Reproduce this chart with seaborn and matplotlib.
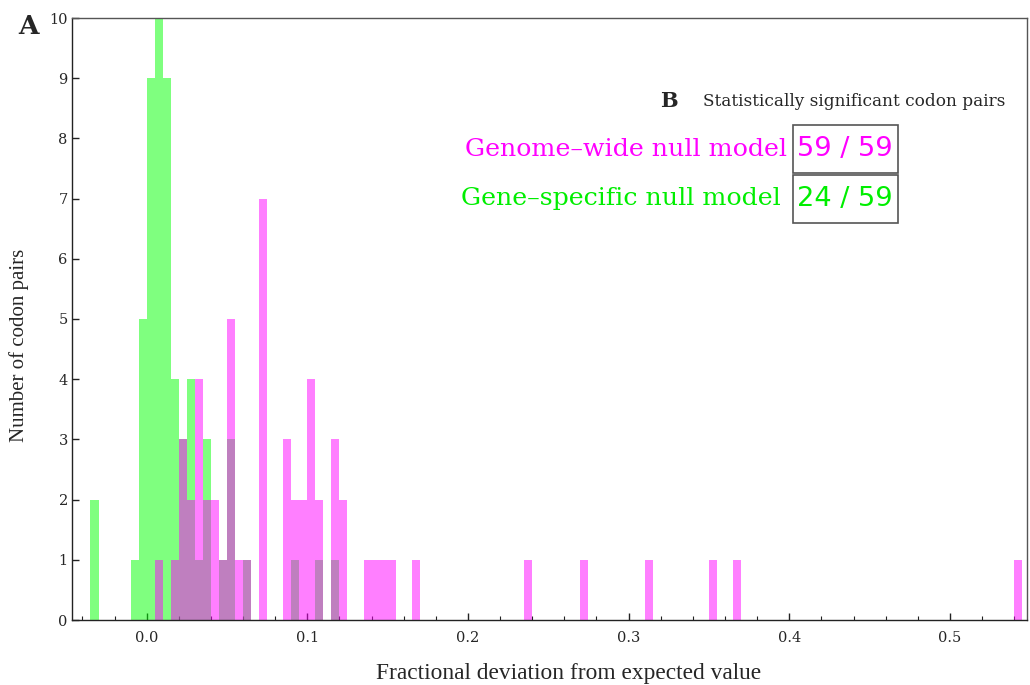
import numpy as np
import pandas as pd
import matplotlib
matplotlib.use("Agg")
import matplotlib.pyplot as plt
import seaborn as sns
from matplotlib.patches import Rectangle
from matplotlib.ticker import MultipleLocator

# ---- data (bin left edge, count); bin width 0.005 ----
bin_width = 0.005
green_bin_start = [-0.035, -0.010, -0.005, 0.000, 0.005, 0.010, 0.015, 0.020, 0.025,
                   0.030, 0.035, 0.045, 0.050, 0.060, 0.090, 0.105, 0.115]
green_counts = [2, 1, 5, 9, 10, 9, 4, 3, 4, 1, 3, 1, 3, 1, 1, 1, 1]

pink_bin_start = [0.005, 0.015, 0.020, 0.025, 0.030, 0.035, 0.040, 0.045, 0.050, 0.055,
                  0.060, 0.070, 0.085, 0.090, 0.095, 0.100, 0.105, 0.115, 0.120, 0.135,
                  0.140, 0.145, 0.150, 0.165, 0.235, 0.270, 0.310, 0.350, 0.365, 0.540]
pink_counts = [1, 1, 3, 2, 4, 2, 2, 1, 5, 1, 1, 7, 3, 2, 2, 4, 2, 3, 2, 1,
               1, 1, 1, 1, 1, 1, 1, 1, 1, 1]

x_major_ticks = [0.0, 0.1, 0.2, 0.3, 0.4, 0.5]
x_tick_labels = ["0.0", "0.1", "0.2", "0.3", "0.4", "0.5"]
y_ticks = list(range(0, 11))

x_label = "Fractional deviation from expected value"
y_label = "Number of codon pairs"
title_b = "Statistically significant codon pairs"
row_labels = ["Genome\u2013wide null model", "Gene\u2013specific null model"]
row_values = ["59 / 59", "24 / 59"]
row_colors = ["#ff00ff", "#00ee00"]

sns.set_style("white")
plt.rcParams['font.family'] = ['Liberation Serif', 'DejaVu Serif']

fig = plt.figure(figsize=(10.3, 6.85), dpi=100)
ax = fig.add_axes([72/1030, 1-620/685, (1027-72)/1030, (620-18)/685])

edges = [float(e) for e in np.round(np.arange(-0.05, 0.5501, bin_width), 4)]
gdf = pd.DataFrame({"x": np.array(green_bin_start) + bin_width/2, "w": green_counts})
pdf = pd.DataFrame({"x": np.array(pink_bin_start) + bin_width/2, "w": pink_counts})

sns.histplot(data=gdf, x="x", weights="w", bins=edges, color="#00ff00",
             alpha=0.5, linewidth=0, ax=ax)
sns.histplot(data=pdf, x="x", weights="w", bins=edges, color="#ff00ff",
             alpha=0.5, linewidth=0, ax=ax)

ax.set_xlim(-0.0465, 0.548)
ax.set_ylim(0, 10)
ax.set_xticks(x_major_ticks)
ax.set_xticklabels(x_tick_labels, fontfamily="DejaVu Serif", fontsize=10.5)
ax.xaxis.set_minor_locator(MultipleLocator(0.02))
ax.set_yticks(y_ticks)
ax.set_yticklabels([str(v) for v in y_ticks], fontfamily="DejaVu Serif", fontsize=10.5)
ax.tick_params(axis="x", which="major", direction="in", length=5, width=1,
               color="#222222", bottom=True, top=False, pad=8)
ax.tick_params(axis="y", which="major", direction="in", length=5, width=1,
               color="#222222", left=True, right=False, pad=3)
ax.tick_params(axis="x", which="minor", direction="in", length=3, width=0.8,
               color="#222222", bottom=True, top=False)
for side, sp in ax.spines.items():
    sp.set_visible(True)
    sp.set_color("#555555")
    sp.set_linewidth(1.0)
ax.spines["left"].set_color("#222222")
ax.spines["bottom"].set_color("#222222")
ax.set_xlabel("")
ax.set_ylabel("")

fig.text(569/1030, 1-673/685, x_label, fontsize=16.8, ha="center", va="center")
fig.text(19/1030, 1-345/685, y_label, fontsize=15, ha="center", va="center",
         rotation=90)

# panel letters and table
fig.text(18/1030, 1-27/685, "A", fontsize=19, fontweight="bold", va="center", ha="left",
         fontfamily="DejaVu Serif")
fig.text(660/1030, 1-101/685, "B", fontsize=15, fontweight="bold", va="center", ha="left",
         fontfamily="DejaVu Serif")
fig.text(703/1030, 1-101/685, title_b, fontsize=12.2, va="center", ha="left",
         fontfamily="DejaVu Serif")

box_x0, box_x1 = 793, 898
row_tops = [125, 175]
row_h = 48
for i, (lab, val, col) in enumerate(zip(row_labels, row_values, row_colors)):
    yc = row_tops[i] + row_h/2
    fig.text((787 if i == 0 else 781)/1030, 1-yc/685, lab, color=col, fontsize=18.2,
             ha="right", va="center", fontfamily="DejaVu Serif")
    fig.text(797/1030, 1-yc/685, val, color=col, fontsize=19.6, ha="left", va="center",
             fontfamily="DejaVu Sans")
    fig.patches.append(Rectangle((box_x0/1030, 1-(row_tops[i]+row_h)/685),
                                 (box_x1-box_x0)/1030, row_h/685,
                                 transform=fig.transFigure, fill=False,
                                 edgecolor="#555555", linewidth=1.2))

fig.savefig("out.png", dpi=100)
